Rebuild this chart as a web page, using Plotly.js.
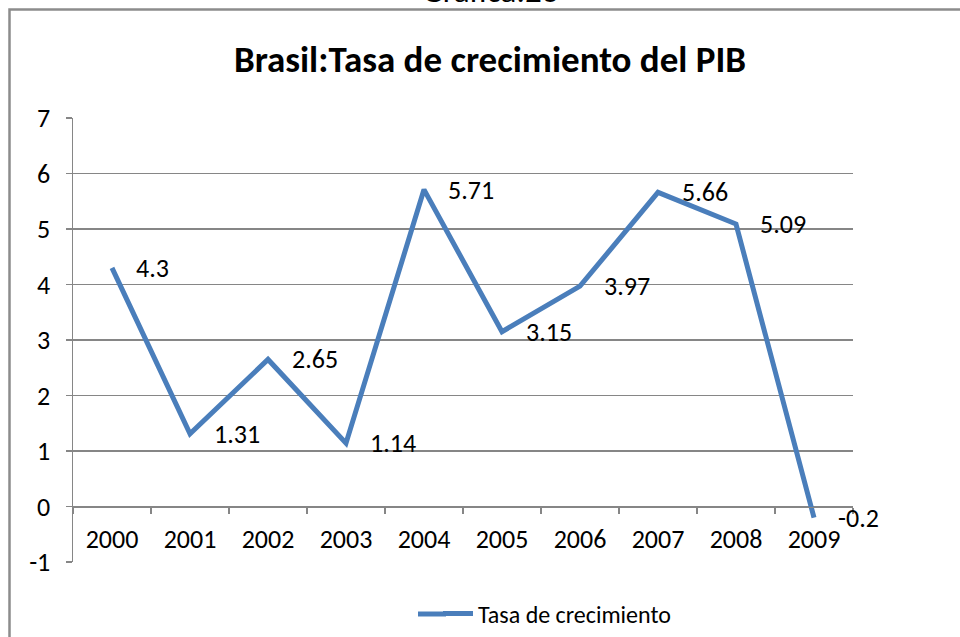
<!DOCTYPE html>
<html>
<head>
<meta charset="utf-8">
<script src="https://cdn.plot.ly/plotly-3.0.1.min.js"></script>
<style>html,body{margin:0;padding:0;background:#fff;}#chart{width:960px;height:637px;}</style>
</head>
<body>
<div id="chart"></div>
<script>
const years = ['2000','2001','2002','2003','2004','2005','2006','2007','2008','2009'];
const growth = [4.3, 1.31, 2.65, 1.14, 5.71, 3.15, 3.97, 5.66, 5.09, -0.2];
const labels = ['4.3','1.31','2.65','1.14','5.71','3.15','3.97','5.66','5.09','-0.2'];
const seriesName = 'Tasa de crecimiento';
const yTicks = [-1, 0, 1, 2, 3, 4, 5, 6, 7];

const FONT = 'Carlito, Calibri, Lato, "Liberation Sans", sans-serif';
const W = 960, H = 637;
const L = 73, R = 107, T = 118, B = 75;
const pw = W - L - R, ph = H - T - B;
const px = x => (x - L) / pw;
const py = y => (H - B - y) / ph;
const BLUE = '#4a7ebb';
const GREY = '#868686';

const trace = {
  x: years, y: growth, type: 'scatter', mode: 'lines',
  name: seriesName,
  line: {color: BLUE, width: 5},
  xaxis: 'x', yaxis: 'y'
};

// category index i of each year on the category axis
const dataLabels = years.map((yr, i) => ({
  x: i, y: growth[i], xref: 'x', yref: 'y', text: labels[i],
  xanchor: 'left', yanchor: 'middle', xshift: 22, showarrow: false,
  font: {family: FONT, size: 26, color: '#000'}
}));

const layout = {
  width: W, height: H,
  margin: {l: L, r: R, t: T, b: B, autoexpand: false},
  paper_bgcolor: '#fff', plot_bgcolor: '#fff',
  font: {family: FONT, size: 26, color: '#000'},
  title: {text: '<b>Brasil:Tasa de crecimiento del PIB</b>', font: {family: FONT, size: 37, color: '#000'},
          x: px(490), xref: 'paper', xanchor: 'center', y: 1 - 59 / H, yanchor: 'middle'},
  showlegend: true,
  legend: {orientation: 'h', x: px(438), xanchor: 'left', y: py(614), yanchor: 'middle',
           font: {family: FONT, size: 24, color: '#000'}, bgcolor: 'rgba(0,0,0,0)'},
  xaxis: {type: 'category', anchor: 'free', position: 1 / 8,
          showline: true, linecolor: GREY, linewidth: 1.5,
          ticks: 'outside', tickson: 'boundaries', ticklen: 6, tickcolor: GREY, tickwidth: 1.5,
          showgrid: false, ticklabelstandoff: 9,
          tickfont: {family: FONT, size: 26, color: '#000'},
          range: [-0.5, 9.5], fixedrange: true},
  yaxis: {range: [-1, 7], tickvals: yTicks, ticktext: yTicks.map(String),
          showline: true, linecolor: GREY, linewidth: 1.5,
          ticks: 'outside', ticklen: 6, tickcolor: GREY, tickwidth: 1.5,
          showgrid: true, gridcolor: GREY, gridwidth: 1.5,
          zeroline: false, ticklabelstandoff: 10,
          tickfont: {family: FONT, size: 26, color: '#000'}, fixedrange: true},
  shapes: [
    {type: 'rect', xref: 'paper', yref: 'paper', x0: px(9.5), x1: px(990), y0: py(660), y1: py(9.5),
     line: {color: '#8c8c8c', width: 2.5}, fillcolor: 'rgba(0,0,0,0)', layer: 'below'},
    {type: 'line', xref: 'paper', yref: 'paper', x0: px(418), x1: px(446), y0: py(614), y1: py(614),
     line: {color: BLUE, width: 5}}
  ],
  annotations: [
    {text: 'Grafica:23', xref: 'paper', yref: 'paper', x: px(490), y: py(13.5), xanchor: 'center', yanchor: 'bottom',
     showarrow: false, font: {family: FONT, size: 33, color: '#000'}}
  ].concat(dataLabels)
};

Plotly.newPlot('chart', [trace], layout, {displayModeBar: false, staticPlot: true});
</script>
</body>
</html>
